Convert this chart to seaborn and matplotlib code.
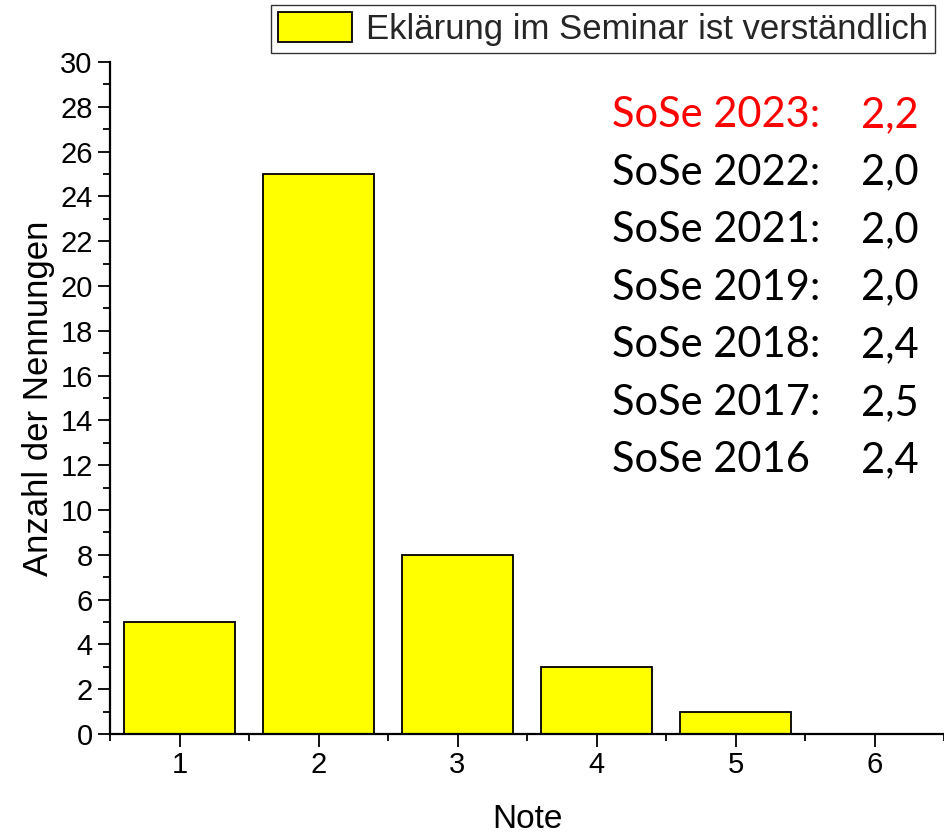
import pandas as pd
import matplotlib.pyplot as plt
import seaborn as sns
from matplotlib.ticker import MultipleLocator

# Daten
noten = [1, 2, 3, 4, 5, 6]
anzahl = [5, 25, 8, 3, 1, 0]
semester = ['SoSe 2023:', 'SoSe 2022:', 'SoSe 2021:', 'SoSe 2019:',
            'SoSe 2018:', 'SoSe 2017:', 'SoSe 2016']
mittelwerte = ['2,2', '2,0', '2,0', '2,0', '2,4', '2,5', '2,4']
farben = ['#ff0000'] + ['#000000'] * 6
legend_label = 'Eklärung im Seminar ist verständlich'

df = pd.DataFrame({'Note': noten, 'Anzahl': anzahl})

sns.set_theme(style='ticks')
plt.rcParams['font.family'] = ['Liberation Sans', 'DejaVu Sans']

fig = plt.figure(figsize=(9.44, 8.36), dpi=100)
ax = fig.add_axes([110 / 944, 1 - 734 / 836, 834 / 944, 672 / 836])

sns.barplot(data=df, x='Note', y='Anzahl', native_scale=True, width=0.8,
            color='#ffff00', saturation=1, edgecolor='black', linewidth=1.3,
            label=legend_label, ax=ax)

ax.set_xlim(0.5, 6.5)
ax.set_ylim(0, 30)
ax.xaxis.set_major_locator(MultipleLocator(1))
ax.xaxis.set_minor_locator(MultipleLocator(0.5))
ax.yaxis.set_major_locator(MultipleLocator(2))
ax.yaxis.set_minor_locator(MultipleLocator(1))
ax.tick_params(which='major', direction='out', length=9, width=1.3,
               labelsize=21, color='black', labelcolor='black')
ax.tick_params(which='minor', direction='out', length=5, width=1.3, color='black')

for side in ['top', 'right']:
    ax.spines[side].set_visible(False)
for side in ['left', 'bottom']:
    ax.spines[side].set_linewidth(1.6)
    ax.spines[side].set_color('black')

ax.set_xlabel('Note', fontsize=24, labelpad=18, color='black')
ax.set_ylabel('Anzahl der Nennungen', fontsize=25, labelpad=4, color='black')

# Mittelwerte der Semester
for i, (sem, mw, c) in enumerate(zip(semester, mittelwerte, farben)):
    y = 0.921 - i * 0.0856
    ax.text(0.602, y, sem, transform=ax.transAxes, fontsize=30, color=c,
            ha='left', va='center', family=['Lato', 'DejaVu Sans'])
    ax.text(0.969, y, mw, transform=ax.transAxes, fontsize=30, color=c,
            ha='right', va='center', family=['Lato', 'DejaVu Sans'])

leg = ax.legend(loc='upper right', bbox_to_anchor=(935 / 944, 1 - 5 / 836),
                bbox_transform=fig.transFigure, borderaxespad=0, fontsize=25,
                frameon=True, fancybox=False, edgecolor='black',
                handlelength=2.15, handleheight=0.95, handletextpad=0.4,
                borderpad=0.2)
leg.get_frame().set_linewidth(1.0)

fig.savefig('out.png', dpi=100)
